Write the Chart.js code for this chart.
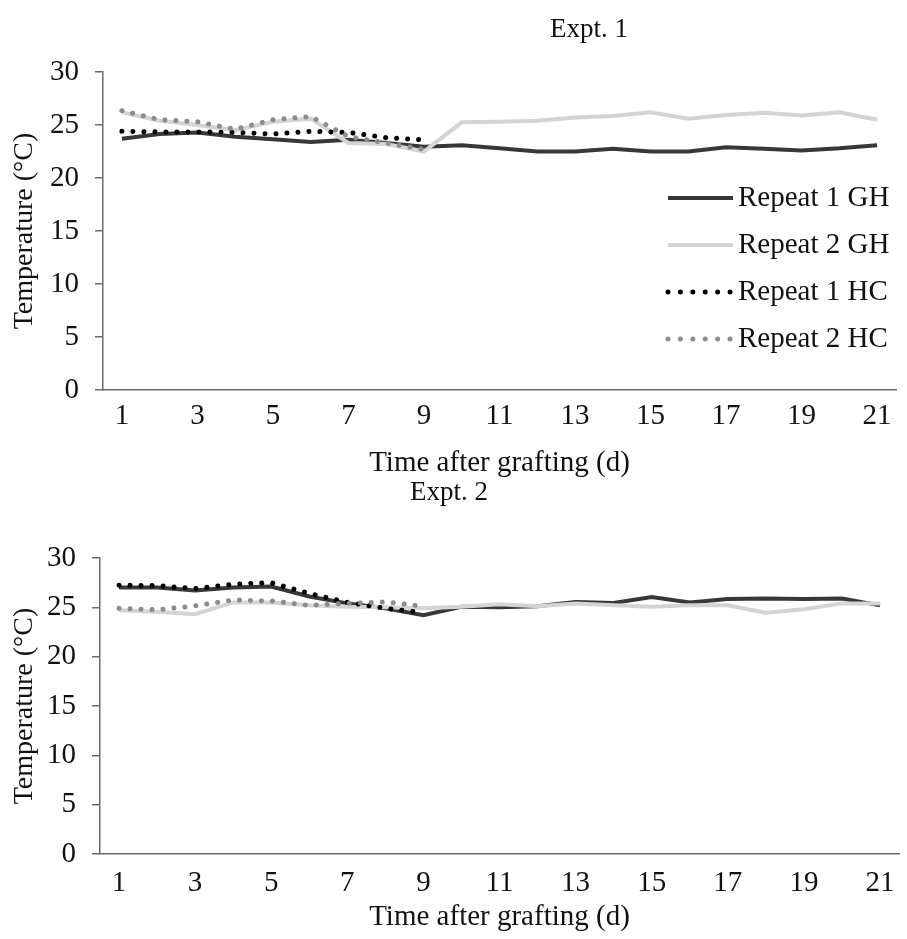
<!DOCTYPE html>
<html lang="en">
<head>
    <meta charset="UTF-8">
    <title>Temperature after grafting</title>
    <script src="https://cdn.jsdelivr.net/npm/chart.js"></script>
    <style>
        body { margin: 0; background: #fff; }
        .panel { position: absolute; left: 0; }
    </style>
</head>
<body>
    <div class="panel" style="top:0"><canvas id="expt1" width="907" height="478"></canvas></div>
    <div class="panel" style="top:478px"><canvas id="expt2" width="907" height="461"></canvas></div>

    <script>
        const days = ['1','2','3','4','5','6','7','8','9','10','11','12','13','14','15','16','17','18','19','20','21'];
        const yTicks = [0, 5, 10, 15, 20, 25, 30];
        const seriesNames = ['Repeat 1 GH', 'Repeat 2 GH', 'Repeat 1 HC', 'Repeat 2 HC'];

        // Expt. 1
        const e1Rep1GH = [23.7, 24.15, 24.3, 23.9, 23.65, 23.4, 23.6, 23.3, 22.95, 23.1, 22.8, 22.5, 22.5, 22.75, 22.5, 22.5, 22.9, 22.75, 22.6, 22.8, 23.1];
        const e1Rep2GH = [26.2, 25.4, 25.0, 24.5, 25.3, 25.6, 23.3, 23.2, 22.5, 25.25, 25.3, 25.4, 25.7, 25.85, 26.2, 25.6, 25.95, 26.15, 25.9, 26.2, 25.5];
        const e1Rep1HC = [24.4, 24.35, 24.35, 24.3, 24.15, 24.4, 24.3, 23.8, 23.6];
        const e1Rep2HC = [26.35, 25.5, 25.3, 24.6, 25.5, 25.8, 23.9, 23.3, 22.7];

        // Expt. 2
        const e2Rep1GH = [27.0, 27.0, 26.7, 27.0, 27.1, 26.1, 25.4, 24.9, 24.2, 25.05, 25.0, 25.1, 25.55, 25.45, 26.05, 25.5, 25.85, 25.9, 25.85, 25.9, 25.2];
        const e2Rep2GH = [24.7, 24.55, 24.3, 25.5, 25.5, 25.2, 25.05, 25.0, 24.9, 25.05, 25.3, 25.1, 25.4, 25.2, 25.05, 25.2, 25.2, 24.45, 24.8, 25.4, 25.4];
        const e2Rep1HC = [27.25, 27.2, 26.9, 27.35, 27.5, 26.4, 25.5, 24.9, 24.45];
        const e2Rep2HC = [24.9, 24.75, 25.15, 25.75, 25.65, 25.2, 25.4, 25.55, 25.1];

        const FONT = 'Liberation Serif, Times New Roman, serif';
        const AXIS = '#6b6b6b';
        const TEXT = '#111';
        const SIZE = 29;

        const styles = [
            { borderColor: '#383838', borderWidth: 4, borderDash: [], order: 4 },
            { borderColor: '#d4d4d4', borderWidth: 4, borderDash: [], order: 3 },
            { borderColor: '#000000', borderWidth: 5, borderDash: [0.01, 11], borderCapStyle: 'round', order: 2 },
            { borderColor: '#8c8c8c', borderWidth: 5, borderDash: [0.01, 11], borderCapStyle: 'round', order: 1 }
        ];

        // Panel title drawn at a set spot (the original is off-centre)
        const panelTitle = {
            id: 'panelTitle',
            afterDraw(chart, args, opts) {
                const ctx = chart.ctx;
                ctx.save();
                ctx.font = `${opts.size}px ${FONT}`;
                ctx.fillStyle = TEXT;
                ctx.textAlign = 'center';
                ctx.textBaseline = 'middle';
                ctx.fillText(opts.text, opts.x, opts.y);
                ctx.restore();
            }
        };

        // Legend inside the plot area, lines drawn from the dataset styles
        const insideLegend = {
            id: 'insideLegend',
            afterDraw(chart, args, opts) {
                if (!opts.show) return;
                const ctx = chart.ctx;
                ctx.save();
                ctx.font = `${opts.size}px ${FONT}`;
                ctx.textBaseline = 'middle';
                chart.data.datasets.forEach((ds, i) => {
                    const y = opts.top + i * opts.step;
                    ctx.strokeStyle = ds.borderColor;
                    ctx.lineWidth = ds.borderWidth;
                    ctx.lineCap = ds.borderDash.length ? 'round' : 'butt';
                    ctx.setLineDash(ds.borderDash.length ? [0.01, 12.4] : []);
                    ctx.beginPath();
                    ctx.moveTo(opts.x, y);
                    ctx.lineTo(opts.x + opts.len, y);
                    ctx.stroke();
                    ctx.setLineDash([]);
                    ctx.fillStyle = TEXT;
                    ctx.fillText(ds.label, opts.x + opts.len + 5, y);
                });
                ctx.restore();
            }
        };

        function makeChart(id, series, p) {
            const datasets = series.map((data, i) => Object.assign({
                label: seriesNames[i],
                data: data,
                fill: false,
                tension: 0,
                pointRadius: 0,
                pointHoverRadius: 0
            }, styles[i]));

            return new Chart(document.getElementById(id), {
                type: 'line',
                data: { labels: days, datasets: datasets },
                plugins: [panelTitle, insideLegend],
                options: {
                    responsive: false,
                    animation: false,
                    events: [],
                    layout: { padding: { top: p.top, right: p.right, left: 0, bottom: 0 } },
                    plugins: {
                        legend: { display: false },
                        tooltip: { enabled: false },
                        panelTitle: { text: p.title, x: p.titleX, y: p.titleY, size: 27 },
                        insideLegend: { show: p.legend, x: 668, len: 65, top: 198, step: 47, size: SIZE }
                    },
                    scales: {
                        x: {
                            offset: true,
                            grid: { display: false, drawTicks: false },
                            border: { display: true, color: AXIS, width: 1.5 },
                            ticks: {
                                autoSkip: false,
                                maxRotation: 0,
                                padding: p.xPad,
                                color: TEXT,
                                font: { family: FONT, size: SIZE },
                                callback: (v, i) => (i % 2 === 0 ? days[i] : '')
                            },
                            title: {
                                display: true,
                                text: 'Time after grafting (d)',
                                color: TEXT,
                                font: { family: FONT, size: SIZE, lineHeight: 1 },
                                padding: { top: 0, bottom: p.xTitlePad }
                            },
                            afterFit: s => { s.height = p.xHeight; }
                        },
                        y: {
                            min: 0,
                            max: 30,
                            afterBuildTicks: s => { s.ticks = yTicks.map(v => ({ value: v })); },
                            grid: { display: true, drawOnChartArea: false, drawTicks: true, tickLength: 8, color: AXIS, lineWidth: 1.5 },
                            border: { display: true, color: AXIS, width: 1.5 },
                            ticks: {
                                padding: 16,
                                color: TEXT,
                                font: { family: FONT, size: SIZE }
                            },
                            title: {
                                display: true,
                                text: 'Temperature (°C)',
                                color: TEXT,
                                font: { family: FONT, size: 28, lineHeight: 1 },
                                padding: { top: 11, bottom: 0 }
                            },
                            afterFit: s => { s.width = p.yWidth; }
                        }
                    }
                }
            });
        }

        makeChart('expt1', [e1Rep1GH, e1Rep2GH, e1Rep1HC, e1Rep2HC], {
            title: 'Expt. 1', titleX: 589, titleY: 30, legend: true,
            top: 72, right: 11, yWidth: 103, xHeight: 88, xPad: 9, xTitlePad: 0
        });

        makeChart('expt2', [e2Rep1GH, e2Rep2GH, e2Rep1HC, e2Rep2HC], {
            title: 'Expt. 2', titleX: 449, titleY: 15, legend: false,
            top: 80, right: 8, yWidth: 100, xHeight: 85, xPad: 12, xTitlePad: 7
        });
    </script>
</body>
</html>
